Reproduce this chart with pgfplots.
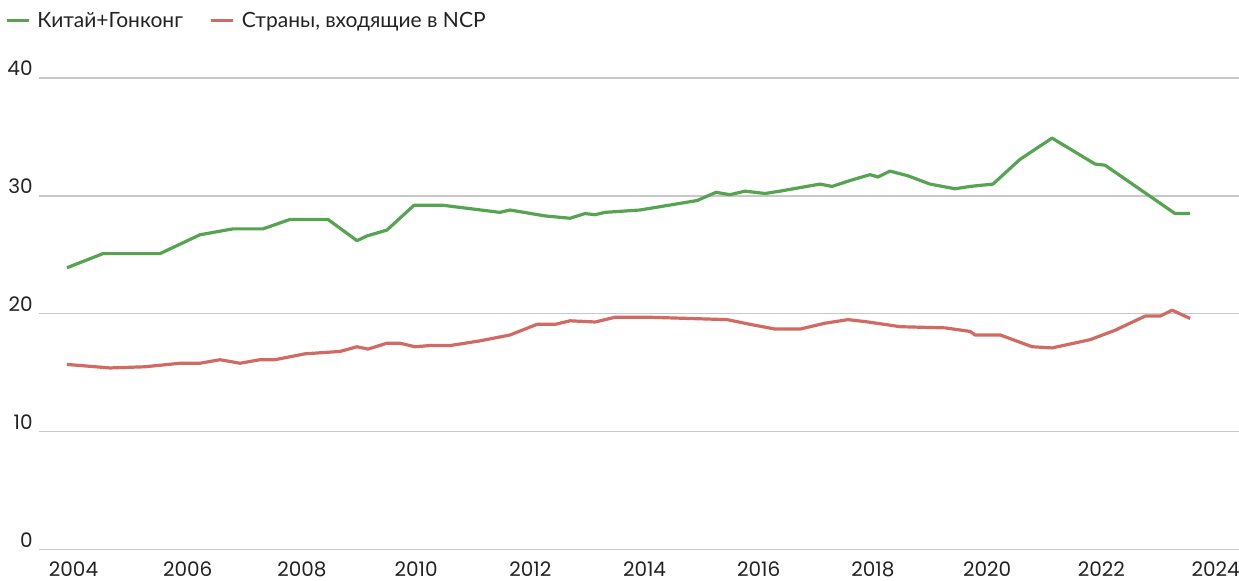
\documentclass[border=0pt]{standalone}
\usepackage{fontspec}
\setmainfont{Lato}
\newfontfamily\numfont{Poppins}
\usepackage{pgfplots}
\pgfplotsset{compat=1.18}
\definecolor{cgreen}{RGB}{86,164,82}
\definecolor{cred}{RGB}{209,106,98}
\definecolor{cgrid}{RGB}{200,200,200}
\definecolor{ctext}{RGB}{34,34,34}
\begin{document}
\begin{tikzpicture}[x=1pt,y=1pt]
\useasboundingbox (0,0) rectangle (619.5,290.5);
\begin{axis}[
  at={(19.5pt,15.75pt)}, anchor=south west,
  scale only axis, width=600pt, height=235.75pt,
  xmin=2003.396, xmax=2024.411, ymin=0, ymax=40,
  xtick={2004,2006,...,2024}, ytick={0,10,...,40},
  xticklabel={\pgfmathprintnumber[/pgf/number format/1000 sep=]{\tick}},
  /pgf/number format/assume math mode=true,
  axis line style={draw=none}, major tick length=0pt,
  ymajorgrids, grid style={cgrid, line width=0.7pt},
  tick label style={font=\numfont\fontsize{10}{12}\selectfont, text=ctext},
  xticklabel style={anchor=north, inner sep=0pt, yshift=-6pt},
  yticklabel style={anchor=south east, inner sep=0pt, xshift=-3pt, yshift=1pt},
  legend columns=2,
  legend style={at={(axis description cs:0,1)}, anchor=west, xshift=-17pt, yshift=28.5pt,
    draw=none, fill=none, inner sep=0pt,
    font=\fontsize{10.5}{12}\selectfont, text=ctext,
    nodes={inner xsep=3.5pt, inner ysep=0pt},
    /tikz/every even column/.append style={column sep=10pt}},
  legend image code/.code={\draw[#1, line width=1.5pt] (0pt,0pt) -- (11pt,0pt);},
  every axis plot/.append style={line width=1.6pt, line join=round, no markers},
]
\addplot[cgreen] coordinates {
(2003.886,23.9)(2004.517,25.1)(2005.515,25.1)(2005.865,25.9)(2006.215,26.7)
(2006.793,27.2)(2007.319,27.2)(2007.791,28.0)(2008.457,28.0)(2008.965,26.2)
(2009.140,26.6)(2009.490,27.1)(2009.963,29.2)(2010.471,29.2)(2011.469,28.6)
(2011.644,28.8)(2012.257,28.3)(2012.695,28.1)(2012.958,28.5)(2013.133,28.4)
(2013.308,28.6)(2013.921,28.8)(2014.919,29.6)(2015.252,30.3)(2015.497,30.1)
(2015.760,30.4)(2016.110,30.2)(2016.373,30.4)(2016.723,30.7)(2017.074,31.0)
(2017.284,30.8)(2017.599,31.3)(2017.949,31.8)(2018.089,31.6)(2018.299,32.1)
(2018.615,31.7)(2019.000,31.0)(2019.438,30.6)(2019.701,30.8)(2020.103,31.0)
(2020.576,33.1)(2021.137,34.9)(2021.890,32.7)(2022.065,32.6)(2023.291,28.5)
(2023.553,28.5)
};
\addlegendentry{Китай+Гонконг}
\addplot[cred] coordinates {
(2003.886,15.7)(2004.639,15.4)(2005.252,15.5)(2005.865,15.8)(2006.215,15.8)
(2006.566,16.1)(2006.916,15.8)(2007.266,16.1)(2007.529,16.1)(2008.054,16.6)
(2008.667,16.8)(2008.965,17.2)(2009.158,17.0)(2009.490,17.5)(2009.718,17.5)
(2009.980,17.2)(2010.243,17.3)(2010.595,17.3)(2011.120,17.7)(2011.646,18.2)
(2012.118,19.1)(2012.434,19.1)(2012.697,19.4)(2013.135,19.3)(2013.485,19.7)
(2014.098,19.7)(2015.447,19.5)(2015.849,19.1)(2016.287,18.7)(2016.725,18.7)
(2017.163,19.2)(2017.565,19.5)(2017.916,19.3)(2018.476,18.9)(2019.264,18.8)
(2019.702,18.5)(2019.790,18.2)(2020.228,18.2)(2020.788,17.2)(2021.138,17.1)
(2021.804,17.8)(2022.242,18.6)(2022.767,19.8)(2023.030,19.8)(2023.240,20.3)
(2023.555,19.6)
};
\addlegendentry{Страны, входящие в NCP}
\end{axis}
\end{tikzpicture}
\end{document}
